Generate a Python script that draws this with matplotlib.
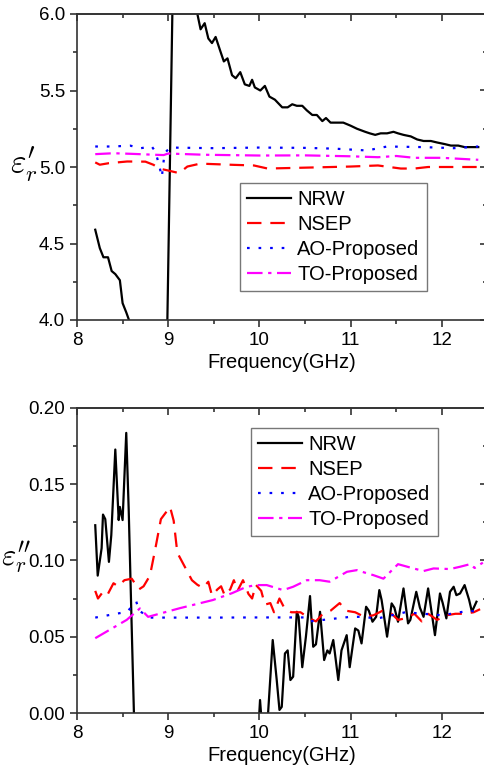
import matplotlib
matplotlib.use('Agg')
import matplotlib.pyplot as plt
from matplotlib.ticker import MultipleLocator, FormatStrFormatter

plt.rcParams['font.family'] = ['Liberation Sans', 'DejaVu Sans']
plt.rcParams['mathtext.fontset'] = 'cm'

# ---- real part (top panel) ----
nrw_f1 = [8.20, 8.25, 8.29, 8.34, 8.38, 8.42, 8.47, 8.50, 8.54, 8.57, 8.62, 8.75, 8.88, 8.95,
          9.10, 9.20, 9.32, 9.355, 9.40, 9.44, 9.48, 9.52, 9.57, 9.61, 9.65, 9.70, 9.74, 9.79,
          9.84, 9.89, 9.92, 9.95, 10.01, 10.06, 10.11, 10.17, 10.25, 10.31, 10.36, 10.41, 10.47,
          10.52, 10.58, 10.63, 10.69, 10.73, 10.78, 10.85, 10.92, 11.00, 11.07, 11.16, 11.21,
          11.27, 11.33, 11.40, 11.47, 11.52, 11.58, 11.66, 11.73, 11.80, 11.88, 11.95, 12.03,
          12.10, 12.18, 12.25, 12.32, 12.40]
nrw_re = [4.59, 4.47, 4.41, 4.41, 4.32, 4.30, 4.26, 4.11, 4.05, 4.00, 3.85, 3.45, 2.95, 2.50,
          8.00, 6.80, 6.00, 5.90, 5.94, 5.84, 5.81, 5.85, 5.76, 5.69, 5.71, 5.60, 5.58, 5.62,
          5.54, 5.53, 5.57, 5.52, 5.50, 5.53, 5.46, 5.44, 5.39, 5.39, 5.41, 5.40, 5.40,
          5.37, 5.34, 5.34, 5.30, 5.32, 5.29, 5.29, 5.29, 5.27, 5.25, 5.23, 5.22,
          5.21, 5.22, 5.22, 5.23, 5.22, 5.21, 5.20, 5.18, 5.17, 5.17, 5.16, 5.15,
          5.14, 5.14, 5.13, 5.13, 5.13]

nsep_f1 = [8.20, 8.25, 8.35, 8.55, 8.75, 8.84, 8.90, 9.00, 9.12, 9.21, 9.35, 9.72, 9.94, 10.09,
           10.45, 11.00, 11.30, 11.55, 11.70, 11.85, 12.40]
nsep_re = [5.03, 5.015, 5.025, 5.036, 5.035, 5.014, 4.99, 4.977, 4.96, 5.003, 5.022, 5.014, 5.01,
           4.99, 4.995, 5.003, 5.01, 4.99, 4.99, 5.0, 5.0]

ao_f1 = [8.20, 8.40, 8.58, 8.70, 8.82, 8.86, 8.90, 8.93, 8.96, 9.02, 9.50, 10.00, 10.50, 10.82,
         11.18, 11.40, 11.80, 12.13, 12.40]
ao_re = [5.134, 5.134, 5.14, 5.123, 5.134, 5.10, 5.014, 4.935, 5.09, 5.127, 5.123, 5.127, 5.125,
         5.12, 5.108, 5.134, 5.13, 5.123, 5.134]

to_f1 = [8.20, 8.40, 8.60, 8.85, 8.95, 9.00, 9.40, 10.00, 10.50, 11.00, 11.30, 11.50, 11.70,
         12.00, 12.40]
to_re = [5.084, 5.09, 5.086, 5.08, 5.078, 5.088, 5.08, 5.075, 5.076, 5.07, 5.064, 5.072, 5.06,
         5.06, 5.047]

# ---- imaginary part (bottom panel) ----
nrw_f2 = [8.20, 8.227, 8.27, 8.285, 8.31, 8.35, 8.376, 8.42, 8.457, 8.47, 8.50, 8.54, 8.567,
          8.595, 8.65, 8.80, 9.50, 9.98, 10.007, 10.03, 10.09, 10.146, 10.19, 10.22, 10.245,
          10.28, 10.31, 10.34, 10.37, 10.41, 10.43, 10.47, 10.51, 10.555, 10.59, 10.62, 10.665,
          10.71, 10.745, 10.77, 10.81, 10.865, 10.90, 10.957, 10.99, 11.05, 11.085, 11.12,
          11.17, 11.20, 11.24, 11.28, 11.315, 11.34, 11.40, 11.45, 11.48, 11.52, 11.58, 11.63,
          11.655, 11.72, 11.76, 11.80, 11.85, 11.925, 11.98, 12.01, 12.05, 12.09, 12.13, 12.16,
          12.20, 12.25, 12.30, 12.33, 12.38]
nrw_im = [0.123, 0.090, 0.108, 0.130, 0.127, 0.099, 0.1165, 0.1726, 0.1264, 0.135, 0.1264,
          0.1835, 0.133, 0.0674, -0.06, -0.25, -0.3, -0.02, 0.0085, -0.01, -0.005, 0.0478,
          0.0216, 0.002, 0.004, 0.039, 0.041, 0.0216, 0.0238, 0.0663, 0.063, 0.030, 0.050,
          0.0766, 0.0434, 0.045, 0.0663, 0.0347, 0.041, 0.039, 0.0478, 0.0216, 0.041, 0.051,
          0.030, 0.0554, 0.054, 0.0456, 0.0696, 0.067, 0.0598, 0.063, 0.0805, 0.074, 0.050,
          0.0718, 0.069, 0.0598, 0.0816, 0.0587, 0.061, 0.0794, 0.069, 0.063, 0.0816, 0.051,
          0.0783, 0.072, 0.062, 0.0794, 0.0827, 0.0772, 0.0783, 0.0838, 0.074, 0.0663, 0.0729]

nsep_f2 = [8.20, 8.23, 8.28, 8.33, 8.40, 8.45, 8.52, 8.60, 8.68, 8.73, 8.80, 8.86, 8.92, 9.02,
           9.06, 9.10, 9.18, 9.26, 9.32, 9.38, 9.44, 9.48, 9.54, 9.58, 9.62, 9.68, 9.72, 9.76,
           9.82, 9.88, 9.92, 9.96, 10.02, 10.06, 10.12, 10.16, 10.22, 10.28, 10.35, 10.45,
           10.55, 10.62, 10.68, 10.78, 10.88, 10.95, 11.05, 11.15, 11.25, 11.35, 11.45, 11.52,
           11.60, 11.70, 11.78, 11.85, 11.95, 12.05, 12.15, 12.25, 12.35, 12.42]
nsep_im = [0.080, 0.075, 0.079, 0.077, 0.085, 0.083, 0.087, 0.088, 0.081, 0.083, 0.090, 0.108,
           0.127, 0.135, 0.126, 0.105, 0.096, 0.087, 0.084, 0.082, 0.086, 0.077, 0.081, 0.083,
           0.077, 0.081, 0.087, 0.080, 0.087, 0.078, 0.075, 0.084, 0.080, 0.071, 0.072, 0.066,
           0.075, 0.068, 0.066, 0.066, 0.062, 0.060, 0.064, 0.067, 0.072, 0.067, 0.066, 0.063,
           0.064, 0.067, 0.065, 0.061, 0.062, 0.065, 0.060, 0.065, 0.061, 0.064, 0.065, 0.065,
           0.066, 0.068]

ao_f2 = [8.20, 8.55, 8.65, 8.68, 8.80, 9.50, 10.00, 10.50, 10.55, 11.00, 11.10, 11.30, 11.60,
         12.00, 12.30, 12.42]
ao_im = [0.0625, 0.0663, 0.073, 0.067, 0.0625, 0.0625, 0.0626, 0.0626, 0.060, 0.063, 0.063,
         0.062, 0.066, 0.064, 0.067, 0.066]

to_f2 = [8.20, 8.545, 8.69, 8.78, 9.13, 9.49, 9.70, 9.86, 9.97, 10.08, 10.26, 10.37, 10.52,
         10.66, 10.77, 10.96, 11.07, 11.18, 11.25, 11.36, 11.52, 11.69, 11.80, 11.91, 12.09,
         12.20, 12.31, 12.36, 12.45]
to_im = [0.049, 0.061, 0.0685, 0.063, 0.0687, 0.074, 0.0785, 0.0827, 0.0838, 0.0838, 0.0805,
         0.0827, 0.087, 0.087, 0.086, 0.0925, 0.0936, 0.0915, 0.0903, 0.088, 0.0975, 0.0947,
         0.093, 0.0947, 0.0943, 0.0958, 0.0975, 0.095, 0.0985]

labels = ['NRW', 'NSEP', 'AO-Proposed', 'TO-Proposed']

W, H = 485, 773
fig = plt.figure(figsize=(W / 100, H / 100), dpi=100)
ax1 = fig.add_axes([77 / W, 453 / H, 410.4 / W, 306 / H])
ax2 = fig.add_axes([77 / W, 60 / H, 410.4 / W, 305.3 / H])

spine_col = '#333333'


def draw(ax, series, ylim, ymaj, ymin, leg_xy):
    styles = [dict(color='black', lw=1.6, ls='-'),
              dict(color='#ff0000', lw=1.6, dashes=(6.5, 4)),
              dict(color='#0000ff', lw=1.6, dashes=(1.2, 4)),
              dict(color='#ff00ff', lw=1.6, dashes=(7, 2.5, 1.5, 2.5))]
    for (f, v), lab, st in zip(series, labels, styles):
        ax.plot(f, v, label=lab, **st)
    ax.set_xlim(8, 12.5)
    ax.set_ylim(*ylim)
    ax.xaxis.set_major_locator(MultipleLocator(1))
    ax.xaxis.set_minor_locator(MultipleLocator(0.5))
    ax.yaxis.set_major_locator(MultipleLocator(ymaj))
    ax.yaxis.set_minor_locator(MultipleLocator(ymin))
    ax.tick_params(which='both', direction='out', color=spine_col, width=1.2, labelsize=13.5)
    ax.tick_params(which='major', length=5)
    ax.tick_params(which='minor', length=3)
    for s in ax.spines.values():
        s.set_color(spine_col)
        s.set_linewidth(1.2)
    # mirrored inward ticks on top and right
    top = ax.secondary_xaxis('top')
    top.xaxis.set_major_locator(MultipleLocator(1))
    top.xaxis.set_minor_locator(MultipleLocator(0.5))
    top.tick_params(which='both', direction='in', labeltop=False, color=spine_col, width=1.2)
    top.tick_params(which='major', length=5)
    top.tick_params(which='minor', length=3)
    top.spines['top'].set_color(spine_col)
    top.spines['top'].set_linewidth(1.2)
    right = ax.secondary_yaxis('right')
    right.yaxis.set_major_locator(MultipleLocator(ymaj))
    right.yaxis.set_minor_locator(MultipleLocator(ymin))
    right.tick_params(which='both', direction='in', labelright=False, color=spine_col, width=1.2)
    right.tick_params(which='major', length=5)
    right.tick_params(which='minor', length=3)

    ax.set_xlabel('Frequency(GHz)', fontsize=14.5, labelpad=3)
    leg = ax.legend(loc='upper left', bbox_to_anchor=leg_xy, borderaxespad=0, fontsize=14.5,
                    frameon=True, fancybox=False, edgecolor='#777777', framealpha=1,
                    handlelength=2.2, handletextpad=0.3, labelspacing=0.3, borderpad=0.35)
    leg.get_frame().set_linewidth(1.0)


draw(ax1, [(nrw_f1, nrw_re), (nsep_f1, nsep_re), (ao_f1, ao_re), (to_f1, to_re)],
     (4.0, 6.0), 0.5, 0.25, (0.397, 0.448))
draw(ax2, [(nrw_f2, nrw_im), (nsep_f2, nsep_im), (ao_f2, ao_im), (to_f2, to_im)],
     (0.0, 0.2), 0.05, 0.025, (0.424, 0.933))
ax1.yaxis.set_major_formatter(FormatStrFormatter('%.1f'))
ax2.yaxis.set_major_formatter(FormatStrFormatter('%.2f'))

# y labels
fig.text(10 / W, 1 - 173 / H, r'$\varepsilon_r^{\prime}$', fontsize=24, ha='left', va='baseline')
fig.text(1 / W, 1 - 566 / H, r'$\varepsilon_r^{\prime\prime}$', fontsize=22, ha='left', va='baseline')

fig.savefig('out.png', dpi=100)
